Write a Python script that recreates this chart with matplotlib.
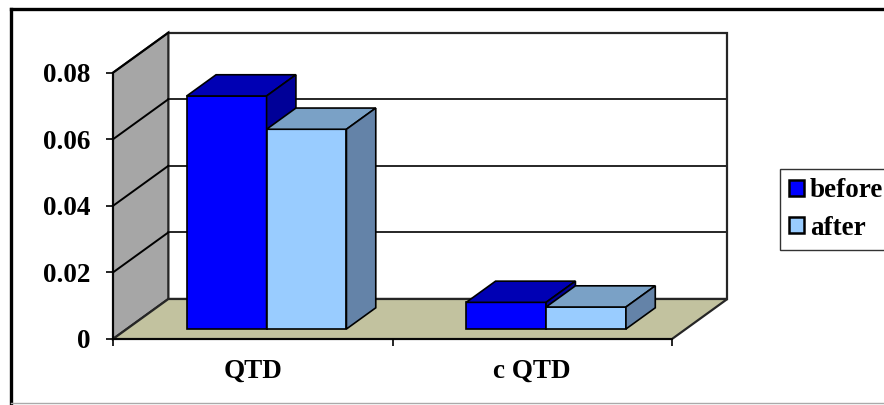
import matplotlib
matplotlib.use("Agg")
import matplotlib.pyplot as plt
from matplotlib.patches import Polygon, Patch
from matplotlib.lines import Line2D

categories = ["QTD", "c QTD"]
series = ["before", "after"]
before = [0.070, 0.008]
after = [0.060, 0.0066]
yticks = [0, 0.02, 0.04, 0.06, 0.08]
ytick_labels = ["0", "0.02", "0.04", "0.06", "0.08"]

values = [before, after]
front_col = ["#0000FF", "#99CCFF"]
top_col = ["#0000B4", "#7AA1C6"]
side_col = ["#000098", "#6483A8"]

W, H = 884, 405
fig = plt.figure(figsize=(W / 100, H / 100), dpi=100)
ax = fig.add_axes([0, 0, 1, 1])

# pixel <-> data mapping (front plane)
px_x0, px_per_x = 113, 279.5
px_y0, px_per_y = 339, 3329.0
ax.set_xlim((0 - px_x0) / px_per_x, (W - px_x0) / px_per_x)
ax.set_ylim(-(H - px_y0) / px_per_y, px_y0 / px_per_y)
ax.patch.set_visible(False)

ncat = len(categories)
ymax = yticks[-1]
ddx, ddy = 0.198, 0.01202   # full depth offset
fd, bd = 0.25, 0.78          # bar front/back depth fractions
edge = "#262626"

# back wall
ax.add_patch(Polygon([(ddx, ddy), (ncat + ddx, ddy), (ncat + ddx, ymax + ddy), (ddx, ymax + ddy)],
                     closed=True, facecolor="white", edgecolor=edge, lw=1.6, zorder=1))
# left wall
ax.add_patch(Polygon([(0, 0), (0, ymax), (ddx, ymax + ddy), (ddx, ddy)],
                     closed=True, facecolor="#A6A6A6", edgecolor=edge, lw=1.6, zorder=1))
# floor
ax.add_patch(Polygon([(0, 0), (ncat, 0), (ncat + ddx, ddy), (ddx, ddy)],
                     closed=True, facecolor="#C2C29F", edgecolor=edge, lw=1.6, zorder=1))
# gridlines
for t in yticks[1:]:
    ax.plot([ddx, ncat + ddx], [t + ddy, t + ddy], color=edge, lw=1.4, zorder=2)
    ax.plot([0, ddx], [t, t + ddy], color="black", lw=1.4, zorder=2)

# bars
bw = 1 / 3.5
for i in range(ncat):
    for j in range(len(series)):
        v = values[j][i]
        x0 = i + 0.75 * bw + j * bw
        x1 = x0 + bw
        fx, fy = fd * ddx, fd * ddy
        bx, by = bd * ddx, bd * ddy
        kw = dict(closed=True, edgecolor="black", lw=1.2, zorder=3 + i * 2 + j)
        ax.add_patch(Polygon([(x0 + fx, fy), (x1 + fx, fy), (x1 + fx, v + fy), (x0 + fx, v + fy)],
                             facecolor=front_col[j], **kw))
        ax.add_patch(Polygon([(x0 + fx, v + fy), (x1 + fx, v + fy), (x1 + bx, v + by), (x0 + bx, v + by)],
                             facecolor=top_col[j], **kw))
        ax.add_patch(Polygon([(x1 + fx, fy), (x1 + fx, v + fy), (x1 + bx, v + by), (x1 + bx, by)],
                             facecolor=side_col[j], **kw))

fs = 19.5
font = dict(family="Liberation Serif", weight="bold", size=fs)

for s in ["top", "right"]:
    ax.spines[s].set_visible(False)
ax.spines["left"].set_position(("data", 0))
ax.spines["left"].set_bounds(0, ymax)
ax.spines["bottom"].set_position(("data", 0))
ax.spines["bottom"].set_bounds(0, ncat)
for s in ["left", "bottom"]:
    ax.spines[s].set_color("black")
    ax.spines[s].set_linewidth(1.2)
    ax.spines[s].set_zorder(2.5)
ax.set_yticks(yticks)
ax.set_yticklabels(ytick_labels, fontdict=font)
ax.set_xticks(range(ncat + 1))
ax.set_xticklabels([""] * (ncat + 1))
ax.set_xticks([i + 0.5 for i in range(ncat)], minor=True)
ax.set_xticklabels(categories, minor=True, fontdict=font)
ax.tick_params(axis="y", direction="out", length=5, width=1.2, pad=11)
ax.tick_params(axis="x", which="major", direction="out", length=5, width=1.2)
ax.tick_params(axis="x", which="minor", length=0, pad=14)

# legend
handles = [Patch(facecolor=front_col[j], edgecolor="black", lw=1.8) for j in range(len(series))]
leg = fig.legend(handles, series, loc="upper left", bbox_to_anchor=(780 / W, 1 - 169 / H),
                 prop=dict(family="Liberation Serif", weight="bold", size=fs),
                 frameon=True, fancybox=False, borderaxespad=0, borderpad=0.35,
                 handlelength=0.55, handleheight=0.55, handletextpad=0.2, labelspacing=0.45)
leg.get_frame().set_edgecolor("black")
leg.get_frame().set_linewidth(1.0)

# outer chart border
fig.add_artist(Line2D([11 / W, 1], [1 - 9 / H, 1 - 9 / H], color="black", lw=2.4))
fig.add_artist(Line2D([11 / W, 11 / W], [1 - 9 / H, 1 - 403 / H], color="black", lw=2.4))
fig.add_artist(Line2D([11 / W, 1], [1 - 403 / H, 1 - 403 / H], color="#AAAAAA", lw=1.0))

fig.savefig("out.png", dpi=100)
